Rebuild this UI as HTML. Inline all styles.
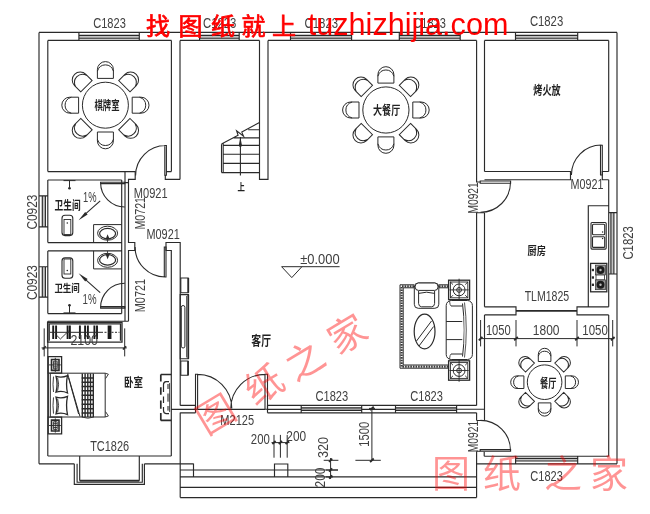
<!DOCTYPE html>
<html><head><meta charset="utf-8"><title>Floor plan</title>
<style>html,body{margin:0;padding:0;background:#fff}svg{display:block}</style></head>
<body><svg width="650" height="514" viewBox="0 0 650 514">
<rect width="650" height="514" fill="#fff"/>
<rect x="78.9" y="35.4" width="60.4" height="2.9" fill="#c4c4c4"/>
<rect x="199.6" y="35.4" width="39.6" height="2.9" fill="#c4c4c4"/>
<rect x="290.5" y="35.4" width="61.1" height="2.9" fill="#c4c4c4"/>
<rect x="399.3" y="35.4" width="60.9" height="2.9" fill="#c4c4c4"/>
<rect x="515.5" y="35.4" width="62.2" height="2.9" fill="#c4c4c4"/>
<rect x="42.3" y="195.8" width="3.2" height="31.1" fill="#c4c4c4"/>
<rect x="42.3" y="266.7" width="3.2" height="30.4" fill="#c4c4c4"/>
<rect x="610.9" y="212.6" width="3" height="61.4" fill="#c4c4c4"/>
<rect x="515.6" y="458.3" width="62.1" height="2.7" fill="#c4c4c4"/>
<rect x="301.2" y="407.8" width="60.5" height="2.5" fill="#c4c4c4"/>
<rect x="395.5" y="407.8" width="61.1" height="2.5" fill="#c4c4c4"/>
<path d="M39 32.4L617 32.4M47.8 40.4L171.5 40.4M180 40.4L259.5 40.4M268 40.4L476.6 40.4M484.5 40.4L608.7 40.4M78.9 32.4L78.9 40.4M139.3 32.4L139.3 40.4M78.9 35.4L139.3 35.4M78.9 38.2L139.3 38.2M199.6 32.4L199.6 40.4M239.2 32.4L239.2 40.4M199.6 35.4L239.2 35.4M199.6 38.2L239.2 38.2M290.5 32.4L290.5 40.4M351.6 32.4L351.6 40.4M290.5 35.4L351.6 35.4M290.5 38.2L351.6 38.2M399.3 32.4L399.3 40.4M460.2 32.4L460.2 40.4M399.3 35.4L460.2 35.4M399.3 38.2L460.2 38.2M515.5 32.4L515.5 40.4M577.7 32.4L577.7 40.4M515.5 35.4L577.7 35.4M515.5 38.2L577.7 38.2M39 32.4L39 463.8M47.8 40.4L47.8 171.5M47.8 180L47.8 242.6M47.8 250.9L47.8 313.6M47.8 321.2L47.8 456M39 195.8L47.8 195.8M39 226.9L47.8 226.9M42.3 195.8L42.3 226.9M45.4 195.8L45.4 226.9M39 266.7L47.8 266.7M39 297.1L47.8 297.1M42.3 266.7L42.3 297.1M45.4 266.7L45.4 297.1M617 32.4L617 463.8M608.7 40.4L608.7 171.5M608.7 179.7L608.7 306.8M608.7 314.9L608.7 456.2M617 212.6L608.7 212.6M617 274L608.7 274M613.9 212.6L613.9 274M610.9 212.6L610.9 274M47.8 456L171.3 456M39 463.8L74.3 463.8M144.4 463.8L193.5 463.8M74.3 463.8L74.3 484.3L144.4 484.3L144.4 463.8M79.7 456L79.7 480.2L139.3 480.2L139.3 456M77.1 463.8L77.1 482.2L142.3 482.2L142.3 463.8M79.7 481L139.3 481M484.2 456.2L608.7 456.2M476.5 463.8L617 463.8M515.6 463.8L515.6 456.2M577.7 463.8L577.7 456.2M515.6 461L577.7 461M515.6 458.3L577.7 458.3M171.4 40.4L171.4 171.6M180 40.4L180 179.4M166.2 171.6L171.4 171.6M165.3 175L165.3 179.4L180 179.4M47.8 171.6L135.2 171.6L135.2 179.4L128.5 179.4L128.5 182.6L125 182.6M47.8 180L121.7 180M121.7 180L121.7 313.6M125 171.6L125 321.2M128.5 182.6L128.5 242.5L134.8 242.5L134.8 250.5L128.5 250.5L128.5 321.2M47.8 242.6L121.7 242.6M47.8 250.9L121.7 250.9M47.8 313.6L121.7 313.6M47.8 321.2L128.5 321.2M171.3 456L171.3 250.5L166 250.5L166 242.5L180.2 242.5L180.2 405.5M180.2 412.6L180.2 497.6M259.5 40.4L259.5 179.3L268 179.3L268 40.4M476.6 40.4L476.6 182L480.2 182M484.5 40.4L484.5 171.5M484.5 212.7L476.6 212.7L476.6 405.4M484.5 212.7L484.5 306.8M484.5 314.9L484.5 420.5M476.6 420.5L484.5 420.5M476.6 412.7L476.6 420.5M476.6 451.2L476.6 497.6M476.6 451.2L480.2 451.2M484.2 451.8L484.2 456.2M484.5 171.5L570.5 171.5L570.5 179.7L484.5 179.7M608.7 171.5L602.3 171.5L602.3 179.7L608.7 179.7M484.5 306.8L516 306.8L516 314.9L484.5 314.9M608.7 306.8L577 306.8L577 314.9L608.7 314.9M608.7 205.7L588.3 205.7L588.3 306.8M180.2 405.3L195.5 405.3M180.2 412.8L195.5 412.8M267.5 405.3L301.2 405.3M267.5 412.8L301.2 412.8M361.7 405.3L395.5 405.3M361.7 412.8L395.5 412.8M456.6 405.3L476.6 405.3M456.6 412.8L476.6 412.8M171.3 409.4L195.5 409.4M267.5 409.4L301.2 409.4M361.7 409.4L395.5 409.4M456.6 409.2L484.5 409.2M195.5 405.3L195.5 412.8M267.5 405.3L267.5 412.8M301.2 405.3L301.2 412.8M361.7 405.3L361.7 412.8M395.5 405.3L395.5 412.8M456.6 405.3L456.6 412.8M301.2 405.3L361.7 405.3M301.2 412.8L361.7 412.8M301.2 407.8L361.7 407.8M301.2 410.3L361.7 410.3M395.5 405.3L456.6 405.3M395.5 412.8L456.6 412.8M395.5 407.8L456.6 407.8M395.5 410.3L456.6 410.3M197.6 409.3L265 409.3M180.2 464L193.5 464L193.5 476.9L180.2 476.9ZM274.5 464L287.8 464L287.8 476.9L274.5 476.9ZM180.2 470L338 470M180.2 476.9L476.6 476.9M180.2 487.4L476.6 487.4M180.2 497.6L476.6 497.6" fill="none" stroke="#2a2a2a" stroke-width="1.15" />
<path d="M135.6 175.5A30 30 0 0 1 165.6 145.5M164.8 145.5L166.4 145.5L166.4 175.2L164.8 175.2ZM135.1 247A30 30 0 0 0 165.1 277M164.3 247L166 247L166 277L164.3 277ZM100.6 182.8A24.2 24.2 0 0 0 124.8 207M100.6 182.2L124.8 182.2L124.8 183.6L100.6 183.6ZM100.6 307.4A24.2 24.2 0 0 1 124.8 283.2M100.6 306.6L124.8 306.6L124.8 308.1L100.6 308.1ZM571.4 175A30 30 0 0 1 601.4 145M600.5 145.3L602.3 145.3L602.3 175L600.5 175ZM510.5 182.3A30 30 0 0 1 480.5 212.3M480.2 181L510.6 181L510.6 183.3L480.2 183.3ZM480.5 420.4A30 30 0 0 1 510.5 450.4M480.2 449.6L510.6 449.6L510.6 451.2L480.2 451.2ZM195.5 374.2L197.6 374.2L197.6 409.3L195.5 409.3ZM265 374.2L267.5 374.2L267.5 409.3L265 409.3ZM197.6 374.4A34.2 34.2 0 0 1 231.8 408.6M265 374.4A34.2 34.2 0 0 0 230.8 408.6" fill="none" stroke="#2a2a2a" stroke-width="1.1" />
<path d="M516 310.9L577 310.9" fill="none" stroke="#2a2a2a" stroke-width="1.8" />
<path d="M221.5 144.2L221.5 172.6M223.2 143.3L223.2 172.6M221.5 172.6L259.5 172.6M223.2 145.4L259.5 145.4M223.2 154.3L259.5 154.3M223.2 163.4L259.5 163.4M233.6 137.9L259.5 137.9M248.2 129.8L259.5 129.8M221.5 144L238.1 135.2L236.6 130.9L243.6 136.3L241.8 132.1L259.5 122.5M240.4 137L240.4 175.6" fill="none" stroke="#2a2a2a" stroke-width="1.1" />
<path d="M240.4 137.2L238.8 145.6Q240.4 149.2 242 145.6Z" fill="#2a2a2a"/>
<g fill="none" stroke="#2a2a2a" stroke-width="1">
<circle cx="105.4" cy="105.2" r="23"/>
<path transform="translate(105.4 105.2) rotate(0)" d="M-8 -26.8V-35.6A8 8 0 0 1 8 -35.6V-26.8ZM-8 -34.1A8.5 9.4 0 0 1 8 -34.1"/>
<path transform="translate(105.4 105.2) rotate(45)" d="M-8 -26.8V-35.6A8 8 0 0 1 8 -35.6V-26.8ZM-8 -34.1A8.5 9.4 0 0 1 8 -34.1"/>
<path transform="translate(105.4 105.2) rotate(90)" d="M-8 -26.8V-35.6A8 8 0 0 1 8 -35.6V-26.8ZM-8 -34.1A8.5 9.4 0 0 1 8 -34.1"/>
<path transform="translate(105.4 105.2) rotate(135)" d="M-8 -26.8V-35.6A8 8 0 0 1 8 -35.6V-26.8ZM-8 -34.1A8.5 9.4 0 0 1 8 -34.1"/>
<path transform="translate(105.4 105.2) rotate(180)" d="M-8 -26.8V-35.6A8 8 0 0 1 8 -35.6V-26.8ZM-8 -34.1A8.5 9.4 0 0 1 8 -34.1"/>
<path transform="translate(105.4 105.2) rotate(225)" d="M-8 -26.8V-35.6A8 8 0 0 1 8 -35.6V-26.8ZM-8 -34.1A8.5 9.4 0 0 1 8 -34.1"/>
<path transform="translate(105.4 105.2) rotate(270)" d="M-8 -26.8V-35.6A8 8 0 0 1 8 -35.6V-26.8ZM-8 -34.1A8.5 9.4 0 0 1 8 -34.1"/>
<path transform="translate(105.4 105.2) rotate(315)" d="M-8 -26.8V-35.6A8 8 0 0 1 8 -35.6V-26.8ZM-8 -34.1A8.5 9.4 0 0 1 8 -34.1"/>
</g>
<g fill="none" stroke="#2a2a2a" stroke-width="1">
<circle cx="385.9" cy="110" r="23.1"/>
<path transform="translate(385.9 110) rotate(0)" d="M-8 -26.9V-35.3A8 8 0 0 1 8 -35.3V-26.9ZM-8 -33.8A8.5 9.4 0 0 1 8 -33.8"/>
<path transform="translate(385.9 110) rotate(45)" d="M-8 -26.9V-35.3A8 8 0 0 1 8 -35.3V-26.9ZM-8 -33.8A8.5 9.4 0 0 1 8 -33.8"/>
<path transform="translate(385.9 110) rotate(90)" d="M-8 -26.9V-35.3A8 8 0 0 1 8 -35.3V-26.9ZM-8 -33.8A8.5 9.4 0 0 1 8 -33.8"/>
<path transform="translate(385.9 110) rotate(135)" d="M-8 -26.9V-35.3A8 8 0 0 1 8 -35.3V-26.9ZM-8 -33.8A8.5 9.4 0 0 1 8 -33.8"/>
<path transform="translate(385.9 110) rotate(180)" d="M-8 -26.9V-35.3A8 8 0 0 1 8 -35.3V-26.9ZM-8 -33.8A8.5 9.4 0 0 1 8 -33.8"/>
<path transform="translate(385.9 110) rotate(225)" d="M-8 -26.9V-35.3A8 8 0 0 1 8 -35.3V-26.9ZM-8 -33.8A8.5 9.4 0 0 1 8 -33.8"/>
<path transform="translate(385.9 110) rotate(270)" d="M-8 -26.9V-35.3A8 8 0 0 1 8 -35.3V-26.9ZM-8 -33.8A8.5 9.4 0 0 1 8 -33.8"/>
<path transform="translate(385.9 110) rotate(315)" d="M-8 -26.9V-35.3A8 8 0 0 1 8 -35.3V-26.9ZM-8 -33.8A8.5 9.4 0 0 1 8 -33.8"/>
</g>
<g fill="none" stroke="#2a2a2a" stroke-width="1">
<circle cx="544.6" cy="382.2" r="17.3"/>
<path transform="translate(544.6 382.2) rotate(0)" d="M-6.3 -20.7V-27.6A6.3 6.3 0 0 1 6.3 -27.6V-20.7ZM-6.3 -26.1A6.7 7.4 0 0 1 6.3 -26.1"/>
<path transform="translate(544.6 382.2) rotate(45)" d="M-6.3 -20.7V-27.6A6.3 6.3 0 0 1 6.3 -27.6V-20.7ZM-6.3 -26.1A6.7 7.4 0 0 1 6.3 -26.1"/>
<path transform="translate(544.6 382.2) rotate(90)" d="M-6.3 -20.7V-27.6A6.3 6.3 0 0 1 6.3 -27.6V-20.7ZM-6.3 -26.1A6.7 7.4 0 0 1 6.3 -26.1"/>
<path transform="translate(544.6 382.2) rotate(135)" d="M-6.3 -20.7V-27.6A6.3 6.3 0 0 1 6.3 -27.6V-20.7ZM-6.3 -26.1A6.7 7.4 0 0 1 6.3 -26.1"/>
<path transform="translate(544.6 382.2) rotate(180)" d="M-6.3 -20.7V-27.6A6.3 6.3 0 0 1 6.3 -27.6V-20.7ZM-6.3 -26.1A6.7 7.4 0 0 1 6.3 -26.1"/>
<path transform="translate(544.6 382.2) rotate(225)" d="M-6.3 -20.7V-27.6A6.3 6.3 0 0 1 6.3 -27.6V-20.7ZM-6.3 -26.1A6.7 7.4 0 0 1 6.3 -26.1"/>
<path transform="translate(544.6 382.2) rotate(270)" d="M-6.3 -20.7V-27.6A6.3 6.3 0 0 1 6.3 -27.6V-20.7ZM-6.3 -26.1A6.7 7.4 0 0 1 6.3 -26.1"/>
<path transform="translate(544.6 382.2) rotate(315)" d="M-6.3 -20.7V-27.6A6.3 6.3 0 0 1 6.3 -27.6V-20.7ZM-6.3 -26.1A6.7 7.4 0 0 1 6.3 -26.1"/>
</g>
<path d="M63.5 180.6L75.5 180.6M69.5 180.6L69.5 187.5M93.6 242.6L93.6 224.6L121.7 224.6" fill="none" stroke="#2a2a2a" stroke-width="1" />
<circle cx="69.5" cy="188.2" r="1.3" fill="#2a2a2a"/>
<ellipse cx="107.6" cy="233.2" rx="10" ry="7" fill="none" stroke="#2a2a2a" stroke-width="1"/>
<ellipse cx="107.6" cy="233.6" rx="8" ry="5.2" fill="none" stroke="#2a2a2a" stroke-width="1.2"/>
<path d="M107.6 234.3L105.5 239.6L109.7 239.6ZM107.2 239.6H108V242.6H107.2Z" fill="#2a2a2a"/>
<rect x="62" y="215.3" width="10.8" height="20.3" rx="3" fill="none" stroke="#2a2a2a" stroke-width="1.1"/>
<rect x="64" y="219.5" width="6.8" height="15" fill="none" stroke="#2a2a2a" stroke-width="0.9"/>
<circle cx="67.3" cy="223" r="0.8" fill="#2a2a2a"/>
<path d="M100.2 200.8L85 214.4" fill="none" stroke="#2a2a2a" stroke-width="1.1" />
<path d="M78.6 220.3L87.6 214.6L85.2 212Z" fill="#2a2a2a"/>
<path d="M63.5 312.9L75.5 312.9M69.5 312.9L69.5 306M93.6 250.9L93.6 268.9L121.7 268.9" fill="none" stroke="#2a2a2a" stroke-width="1" />
<circle cx="69.5" cy="305.3" r="1.3" fill="#2a2a2a"/>
<ellipse cx="107.6" cy="260.3" rx="10" ry="7" fill="none" stroke="#2a2a2a" stroke-width="1"/>
<ellipse cx="107.6" cy="259.9" rx="8" ry="5.2" fill="none" stroke="#2a2a2a" stroke-width="1.2"/>
<path d="M107.6 259.2L105.5 253.9L109.7 253.9ZM107.2 253.9H108V250.9H107.2Z" fill="#2a2a2a"/>
<rect x="62" y="257.9" width="10.8" height="20.3" rx="3" fill="none" stroke="#2a2a2a" stroke-width="1.1"/>
<rect x="64" y="259" width="6.8" height="15" fill="none" stroke="#2a2a2a" stroke-width="0.9"/>
<circle cx="67.3" cy="270.5" r="0.8" fill="#2a2a2a"/>
<path d="M100.2 292.7L85 279.1" fill="none" stroke="#2a2a2a" stroke-width="1.1" />
<path d="M78.6 273.2L87.6 278.9L85.2 281.5Z" fill="#2a2a2a"/>
<path d="M47.6 322.3L122 322.3L122 342.2L47.6 342.2Z" fill="none" stroke="#2a2a2a" stroke-width="1.3" />
<path d="M49.2 340.8L49.2 323.9L120.5 323.9L120.5 340.8" fill="none" stroke="#2a2a2a" stroke-width="1.3" />
<path d="M53.2 325.6L53.2 339M56.1 325.6L56.1 339M67.6 325.6L67.6 339M69.9 325.6L69.9 339M79.9 325.6L79.9 339M85.1 325.6L85.1 339M87.9 325.6L87.9 339M94.4 325.6L94.4 339M97 325.6L97 339M108.6 325.6L108.6 339M110.5 325.6L110.5 339" fill="none" stroke="#1a1a1a" stroke-width="1.9" />
<path d="M50 332.3L101 332.3" fill="none" stroke="#2a2a2a" stroke-width="1" />
<path d="M101 332.3L119.5 332.3" fill="none" stroke="#2a2a2a" stroke-width="1" stroke-dasharray="2 1.5"/>
<path d="M56.1 334.8L60.4 339L69.1 330.5" fill="none" stroke="#2a2a2a" stroke-width="0.9" />
<path d="M41.6 347.9L126.8 347.9M44.2 328.4L44.2 356.4M124.7 328.4L124.7 356.4" fill="none" stroke="#2a2a2a" stroke-width="1" />
<path d="M42.6 349.5L45.8 346.3M122.9 349.5L126.1 346.3" fill="none" stroke="#2a2a2a" stroke-width="1.6" />
<path d="M48.2 356.6L61.6 356.6L61.6 373.2L48.2 373.2Z" fill="none" stroke="#2a2a2a" stroke-width="1.3" />
<path d="M51.5 359.5L59 359.5L59 370.4L51.5 370.4Z" fill="none" stroke="#2a2a2a" stroke-width="1.6" />
<path d="M49 364.9L60.8 364.9M55.3 357.8L55.3 372M53.4 361.2L57.2 361.2L57.2 368.8L53.4 368.8ZM53.4 363.1L57.2 363.1M53.4 366.9L57.2 366.9" fill="none" stroke="#2a2a2a" stroke-width="0.9" />
<path d="M48.2 417.2L61.6 417.2L61.6 433.8L48.2 433.8Z" fill="none" stroke="#2a2a2a" stroke-width="1.3" />
<path d="M51.5 420.1L59 420.1L59 431L51.5 431Z" fill="none" stroke="#2a2a2a" stroke-width="1.6" />
<path d="M49 425.5L60.8 425.5M55.3 418.4L55.3 432.6M53.4 421.8L57.2 421.8L57.2 429.4L53.4 429.4ZM53.4 423.7L57.2 423.7M53.4 427.5L57.2 427.5" fill="none" stroke="#2a2a2a" stroke-width="0.9" />
<path d="M50.3 373.2L105.2 373.2L105.2 417L50.3 417ZM48.4 373.2L48.4 417M67.6 373.8L80 416.6M68.6 378L78.6 414" fill="none" stroke="#2a2a2a" stroke-width="1" />
<path d="M56 376.4Q62 378.2 67.5 375.6Q65.6 384.3 67.5 393Q62 390.4 56 392.2Q58.2 384.3 56 376.4Z" fill="none" stroke="#2a2a2a" stroke-width="1.3"/>
<path d="M57.6 377.8Q59.6 384.3 57.6 390.8M53.5 376.6Q52.5 384.3 53.5 392" fill="none" stroke="#2a2a2a" stroke-width="0.9"/>
<path d="M56 397.2Q62 399 67.5 396.4Q65.6 405.5 67.5 414.6Q62 412 56 413.8Q58.2 405.5 56 397.2Z" fill="none" stroke="#2a2a2a" stroke-width="1.3"/>
<path d="M57.6 398.6Q59.6 405.5 57.6 412.4M53.5 397.4Q52.5 405.5 53.5 413.6" fill="none" stroke="#2a2a2a" stroke-width="0.9"/>
<path d="M82.3 373.6L82.3 417M85.1 373.6L85.1 417M87.8 373.6L87.8 417M90.5 373.6L90.5 417M93.3 373.6L93.3 417" fill="none" stroke="#2a2a2a" stroke-width="1.4" />
<path d="M81.7 378L93.9 378M81.7 382.2L93.9 382.2M81.7 386.4L93.9 386.4M81.7 390.8L93.9 390.8M81.7 395.2L93.9 395.2M81.7 399.7L93.9 399.7M81.7 404.3L93.9 404.3M81.7 408.8L93.9 408.8M81.7 413.1L93.9 413.1" fill="none" stroke="#2a2a2a" stroke-width="1.5" />
<path d="M81.7 417Q87.8 419.4 93.9 417" fill="none" stroke="#2a2a2a" stroke-width="0.9" />
<path d="M105.2 373.2L108.4 374.2L105.6 378.5M105.2 417L108.4 416L105.6 411.7" fill="none" stroke="#2a2a2a" stroke-width="0.9" />
<path d="M160.8 374.5L171.3 374.5M160.8 420.4L171.3 420.4M160.8 374.5L160.8 381.6M160.8 387.2L160.8 394.8M160.8 400.4L160.8 408.7M160.8 413.1L160.8 420.4" fill="none" stroke="#2a2a2a" stroke-width="1.7" />
<path d="M169 381.6H166Q163.6 381.8 163.5 384.5V392M163.5 396.5V403M163.5 407V410.5Q163.6 413.4 166 413.6H169" fill="none" stroke="#2a2a2a" stroke-width="1.2" />
<rect x="167" y="384" width="2.6" height="5" fill="#8a8a8a"/>
<rect x="167" y="393.5" width="2.6" height="8.2" fill="#8a8a8a"/>
<rect x="167" y="406" width="2.6" height="4.6" fill="#8a8a8a"/>
<path d="M169.6 383L169.6 412" fill="none" stroke="#2a2a2a" stroke-width="0.8" />
<path d="M180.8 278L188.2 278L188.2 292.8L180.8 292.8ZM180.8 361L188 361L188 375.2L180.8 375.2ZM180.2 294.6L188.4 294.6L188.4 358.8L180.2 358.8Z" fill="none" stroke="#2a2a2a" stroke-width="1.1" />
<path d="M188.3 294.6L188.3 358.8M188.3 278L188.3 292.8M188.1 361L188.1 375.2" fill="none" stroke="#2a2a2a" stroke-width="1.7" />
<rect x="181.3" y="305.5" width="3.6" height="42.5" rx="1.8" fill="none" stroke="#2a2a2a" stroke-width="1"/>
<path d="M186.6 296L186.6 357.5" fill="none" stroke="#2a2a2a" stroke-width="0.8" />
<path d="M414 284.8L400 284.8L400 368.2L448.5 368.2M439 284.8L448.5 284.8M414 287.8L403.2 287.8L403.2 365L448.5 365M439 287.8L448.5 287.8" fill="none" stroke="#2a2a2a" stroke-width="1" />
<path d="M414 286.3L401.6 286.3L401.6 366.6L448.5 366.6M439 286.3L448.5 286.3" fill="none" stroke="#3a3a3a" stroke-width="2.2" stroke-dasharray="1.6 1"/>
<g fill="#fff" stroke="#2a2a2a" stroke-width="1">
<rect x="414.3" y="283" width="24.5" height="25.3" rx="4"/>
<rect x="415.2" y="283" width="22.7" height="7.4" rx="3.2"/>
<path d="M418.6 291V303.5Q418.8 306.6 421.5 306.8H431.7Q434.4 306.6 434.6 303.5V291M418.6 293.4Q426.6 291 434.6 293.4"/>
<ellipse cx="424.6" cy="331.5" rx="10.4" ry="17.4" stroke-width="1.2"/>
<path d="M416.5 341L431.5 321M419 346L433.6 326.5"/>
<rect x="448.6" y="280.2" width="21" height="19.4" stroke-width="1.3"/>
<rect x="450.4" y="282" width="17.4" height="15.8" stroke-width="0.9"/>
<circle cx="459.1" cy="289.9" r="5.9"/>
<circle cx="459.1" cy="289.9" r="2.4"/>
<path d="M459.1 278.7V301.2M449.5 289.9H468.7M450.4 282L453 284.6M467.8 282L465.2 284.6M450.4 297.8L453 295.2M467.8 297.8L465.2 295.2" stroke-width="0.9"/>
<rect x="448.6" y="360.8" width="21" height="19.4" stroke-width="1.3"/>
<rect x="450.4" y="362.6" width="17.4" height="15.8" stroke-width="0.9"/>
<circle cx="459.1" cy="370.5" r="5.9"/>
<circle cx="459.1" cy="370.5" r="2.4"/>
<path d="M459.1 359.3V381.8M449.5 370.5H468.7M450.4 362.6L453 365.2M467.8 362.6L465.2 365.2M450.4 378.4L453 375.8M467.8 378.4L465.2 375.8" stroke-width="0.9"/>
<rect x="446.2" y="300.5" width="26.2" height="59" rx="5"/>
<path d="M451 306H462.5M451 354H462.5M446.2 321.5H462.5M446.2 339.6H462.5"/>
<path d="M462.5 303.5Q466 330 462.5 356.5" />
<path d="M464.5 302.5Q468 330 464.5 357.5" stroke-width="0.8"/>
<path d="M449.5 301Q450 305.5 451 306M449.5 359Q450 354.5 451 354" stroke-width="0.8"/>
</g>
<g fill="none" stroke="#2a2a2a" stroke-width="1.1">
<rect x="591" y="222.5" width="15.2" height="26.6" rx="1"/>
<rect x="592.5" y="224.2" width="12.2" height="10.6" rx="1"/>
<rect x="592.5" y="236.8" width="12.2" height="10.6" rx="1"/>
<rect x="590.6" y="263.4" width="16.2" height="28.4" stroke-width="1.3"/>
<rect x="596" y="274.8" width="8.5" height="5.2" stroke-width="0.8"/>
</g>
<rect x="595.6" y="265.1" width="9.8" height="9.8" fill="#999" stroke="#2a2a2a" stroke-width="0.7"/>
<circle cx="600.5" cy="270" r="4" fill="#1c1c1c"/>
<circle cx="600.5" cy="270" r="1.2" fill="#bbb"/>
<rect x="591.8" y="268.8" width="2.2" height="2.4" fill="#2a2a2a"/>
<rect x="595.6" y="279.9" width="9.8" height="9.8" fill="#999" stroke="#2a2a2a" stroke-width="0.7"/>
<circle cx="600.5" cy="284.8" r="4" fill="#1c1c1c"/>
<circle cx="600.5" cy="284.8" r="1.2" fill="#bbb"/>
<rect x="591.8" y="283.6" width="2.2" height="2.4" fill="#2a2a2a"/>
<rect x="591.8" y="276.3" width="2.2" height="2.4" fill="#2a2a2a"/>
<circle cx="602.6" cy="232" r="0.7" fill="#2a2a2a"/><circle cx="602.6" cy="238.5" r="0.7" fill="#2a2a2a"/>
<path d="M281.6 266.7L339.6 266.7M281.6 266.7L291.8 277.6L301.9 266.7M480 338.6L614.5 338.6M480.6 320L480.6 346.4M516 320L516 346.4M577 320L577 346.4M612.7 320L612.7 346.4M371.9 408.4L371.9 460.3M355.4 460.3L380.8 460.3M369 408.4L375 408.4M274 434.9L274 457.7M280.4 434.9L280.4 457.7M287.2 434.9L287.2 457.7M271.5 442.6L289.5 442.6M330.6 458L330.6 479M323.7 460.3L338.4 460.3M326 470L338 470M326 476.9L333 476.9" fill="none" stroke="#2a2a2a" stroke-width="1" />
<path d="M478.8 340.4L482.4 336.8M514.2 340.4L517.8 336.8M575.2 340.4L578.8 336.8M610.9 340.4L614.5 336.8M370.1 410.2L373.7 406.6M370.1 462.1L373.7 458.5M272.4 444.2L275.6 441M278.8 444.2L282 441M285.6 444.2L288.8 441M329 461.9L332.2 458.7M329 471.6L332.2 468.4M329 478.5L332.2 475.3" fill="none" stroke="#2a2a2a" stroke-width="1.8" />
<g font-family="'Liberation Sans', sans-serif" fill="#404040" style="filter:grayscale(1)">
<text x="93.2" y="28.4" font-size="15.2" textLength="32.6" lengthAdjust="spacingAndGlyphs">C1823</text>
<text x="203" y="27.9" font-size="15.2" textLength="33.3" lengthAdjust="spacingAndGlyphs">C1223</text>
<text x="304.6" y="27.9" font-size="15.2" textLength="33.4" lengthAdjust="spacingAndGlyphs">C1823</text>
<text x="413.4" y="27.9" font-size="15.2" textLength="32.5" lengthAdjust="spacingAndGlyphs">C1823</text>
<text x="529.9" y="26.2" font-size="15.2" textLength="33.3" lengthAdjust="spacingAndGlyphs">C1823</text>
<text x="133.8" y="197.9" font-size="15.2" textLength="33.8" lengthAdjust="spacingAndGlyphs">M0921</text>
<text x="146.5" y="238.5" font-size="15.2" textLength="33.3" lengthAdjust="spacingAndGlyphs">M0921</text>
<text x="570.4" y="189.3" font-size="15.2" textLength="33" lengthAdjust="spacingAndGlyphs">M0921</text>
<text x="524.7" y="301.4" font-size="15.2" textLength="44.5" lengthAdjust="spacingAndGlyphs">TLM1825</text>
<text x="485.9" y="334.9" font-size="15.2" textLength="24.9" lengthAdjust="spacingAndGlyphs">1050</text>
<text x="532.8" y="334.9" font-size="15.2" textLength="26.7" lengthAdjust="spacingAndGlyphs">1800</text>
<text x="582.3" y="334.9" font-size="15.2" textLength="25.5" lengthAdjust="spacingAndGlyphs">1050</text>
<text x="315.5" y="401.1" font-size="15.2" textLength="32.7" lengthAdjust="spacingAndGlyphs">C1823</text>
<text x="410.3" y="401.1" font-size="15.2" textLength="32.6" lengthAdjust="spacingAndGlyphs">C1823</text>
<text x="220.3" y="425.2" font-size="15.2" textLength="33.8" lengthAdjust="spacingAndGlyphs">M2125</text>
<text x="250.8" y="444.3" font-size="15.2" textLength="19" lengthAdjust="spacingAndGlyphs">200</text>
<text x="286.3" y="441.2" font-size="15.2" textLength="19.8" lengthAdjust="spacingAndGlyphs">200</text>
<text x="90.2" y="450.6" font-size="15.2" textLength="38.9" lengthAdjust="spacingAndGlyphs">TC1826</text>
<text x="530.3" y="480.5" font-size="15.2" textLength="32.5" lengthAdjust="spacingAndGlyphs">C1823</text>
<text x="300.2" y="263.6" font-size="15.2" textLength="39.4" lengthAdjust="spacingAndGlyphs">±0.000</text>
<text x="83.1" y="201.5" font-size="15.2" textLength="13.5" lengthAdjust="spacingAndGlyphs">1%</text>
<text x="82.6" y="303.5" font-size="15.2" textLength="14" lengthAdjust="spacingAndGlyphs">1%</text>
<text x="70.4" y="345.2" font-size="15.2" textLength="27.6" lengthAdjust="spacingAndGlyphs">2100</text>
<text transform="translate(37 229.6) rotate(-90)" font-size="15.2" textLength="35.1" lengthAdjust="spacingAndGlyphs">C0923</text>
<text transform="translate(37 300.1) rotate(-90)" font-size="15.2" textLength="35.1" lengthAdjust="spacingAndGlyphs">C0923</text>
<text transform="translate(144.5 229.6) rotate(-90)" font-size="15.2" textLength="32.6" lengthAdjust="spacingAndGlyphs">M0721</text>
<text transform="translate(144.5 312.2) rotate(-90)" font-size="15.2" textLength="33.2" lengthAdjust="spacingAndGlyphs">M0721</text>
<text transform="translate(478.1 213.6) rotate(-90)" font-size="15.2" textLength="31.4" lengthAdjust="spacingAndGlyphs">M0921</text>
<text transform="translate(478.1 452.3) rotate(-90)" font-size="15.2" textLength="31.4" lengthAdjust="spacingAndGlyphs">M0921</text>
<text transform="translate(632.8 259.6) rotate(-90)" font-size="15.2" textLength="33.5" lengthAdjust="spacingAndGlyphs">C1823</text>
<text transform="translate(368.5 446.7) rotate(-90)" font-size="15.2" textLength="24.9" lengthAdjust="spacingAndGlyphs">1500</text>
<text transform="translate(327.7 458.1) rotate(-90)" font-size="15.2" textLength="21.1" lengthAdjust="spacingAndGlyphs">320</text>
<text transform="translate(325.1 487.4) rotate(-90)" font-size="15.2" textLength="19.9" lengthAdjust="spacingAndGlyphs">200</text>
</g>
<g font-family="'Liberation Sans', 'Noto Sans CJK SC', sans-serif" fill="#222" font-weight="bold">
<text x="94.5" y="109.5" font-size="12.5" textLength="25" lengthAdjust="spacingAndGlyphs">棋牌室</text>
<text x="373" y="114.6" font-size="12" textLength="27.2" lengthAdjust="spacingAndGlyphs">大餐厅</text>
<text x="533.3" y="95" font-size="12.5" textLength="27.3" lengthAdjust="spacingAndGlyphs">烤火放</text>
<text x="54.6" y="209.8" font-size="12" textLength="26.1" lengthAdjust="spacingAndGlyphs">卫生间</text>
<text x="54.4" y="292.1" font-size="10.6" textLength="25.4" lengthAdjust="spacingAndGlyphs">卫生间</text>
<text x="527.5" y="254.5" font-size="11" textLength="18.3" lengthAdjust="spacingAndGlyphs">厨房</text>
<text x="251.3" y="344.5" font-size="13" textLength="19.7" lengthAdjust="spacingAndGlyphs">客厅</text>
<text x="124" y="387" font-size="12.4" textLength="18.9" lengthAdjust="spacingAndGlyphs">卧室</text>
<text x="540" y="387.6" font-size="12" textLength="16.4" lengthAdjust="spacingAndGlyphs">餐厅</text>
<text x="237.6" y="190.6" font-size="10.5" textLength="7.4" lengthAdjust="spacingAndGlyphs">上</text>
</g>
<g font-family="'Liberation Sans', 'Noto Sans CJK SC', sans-serif" fill="#ff0000" fill-opacity="0.42" font-size="38" text-anchor="middle">
<text transform="translate(215.8 414.3) rotate(-31)" x="0" y="13.5">图</text>
<text transform="translate(264 385) rotate(-31)" x="0" y="13.5">纸</text>
<text transform="translate(304.8 360.8) rotate(-31)" x="0" y="13.5">之</text>
<text transform="translate(347.3 334.3) rotate(-31)" x="0" y="13.5">家</text>
<text x="451" y="486.5">图</text>
<text x="502" y="486.5">纸</text>
<text x="563" y="486.5">之</text>
<text x="609" y="486.5">家</text>
</g>
<text x="146 178.5 211 241.5 272" y="35" font-family="'Liberation Sans', 'Noto Sans CJK SC', sans-serif" font-size="24" fill="#ff0000" stroke="#ff0000" stroke-width="0.7">找图纸就上</text>
<text x="307.8" y="34.6" font-family="'Liberation Sans', sans-serif" font-size="31.5" fill="#ff0000" textLength="200.6" lengthAdjust="spacingAndGlyphs">tuzhizhijia.com</text>
</svg></body></html>
